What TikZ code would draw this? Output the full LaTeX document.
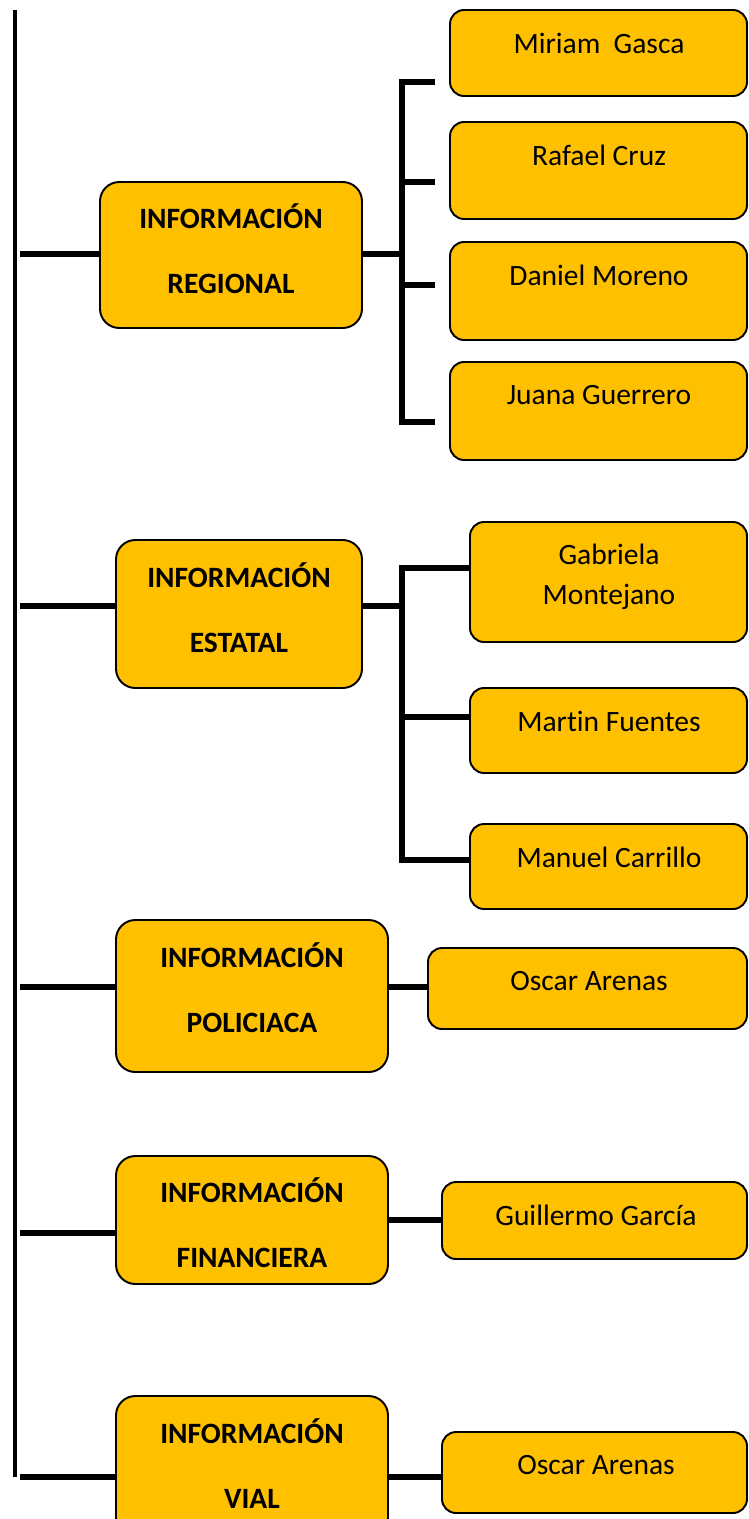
\documentclass[tikz,border=0pt]{standalone}
\usepackage{fontspec}
\setmainfont{Carlito}[Ligatures=NoCommon]
\usepackage{tikz}
\usetikzlibrary{fit}
\definecolor{gold}{HTML}{FFC000}
\tikzset{
  area/.style={draw, fill=gold, line width=1.1pt, rounded corners=11pt, inner sep=0pt},
  leaf/.style={draw, fill=gold, line width=1.1pt, rounded corners=8pt, inner sep=0pt},
  link/.style={line width=3.2pt},
  spine/.style={line width=2.7pt},
  title/.style={font=\fontsize{16.8}{19}\selectfont\bfseries, align=center},
  person/.style={font=\fontsize{16.8}{19}\selectfont, align=center},
}

\begin{document}
\begin{tikzpicture}[x=0.02cm, y=-0.02cm]
    \useasboundingbox (0,0) rectangle (748,1519);
    \clip (0,0) rectangle (748,1519);

    % areas
    \node[area, fit={(100,182) (362,328)}] (reg) {};
    \node[area, fit={(116,540) (362,688)}] (est) {};
    \node[area, fit={(116,920) (388,1072)}] (pol) {};
    \node[area, fit={(116,1156) (388,1284)}] (fin) {};
    \node[area, fit={(116,1396) (388,1560)}] (via) {};
    \node[title] (regt) at (231,249) {INFORMACIÓN\\[18pt]REGIONAL};
    \node[title] (estt) at (239,608) {INFORMACIÓN\\[18pt]ESTATAL};
    \node[title] (polt) at (252,988) {INFORMACIÓN\\[18pt]POLICIACA};
    \node[title] (fint) at (252,1223) {INFORMACIÓN\\[18pt]FINANCIERA};
    \node[title] (viat) at (252,1464) {INFORMACIÓN\\[18pt]VIAL};

    % people
    \node[leaf, fit={(450,10) (747,96)}] (m1) {};
    \node[leaf, fit={(450,122) (747,219)}] (m2) {};
    \node[leaf, fit={(450,242) (747,340)}] (m3) {};
    \node[leaf, fit={(450,362) (747,460)}] (m4) {};
    \node[leaf, fit={(470,522) (747,642)}] (e1) {};
    \node[leaf, fit={(470,688) (747,773)}] (e2) {};
    \node[leaf, fit={(470,824) (747,909)}] (e3) {};
    \node[leaf, fit={(428,948) (747,1029)}] (p1) {};
    \node[leaf, fit={(442,1182) (747,1259)}] (f1) {};
    \node[leaf, fit={(442,1432) (747,1513)}] (v1) {};
    \node[person] (m1t) at (599,43) {Miriam\ \ Gasca};
    \node[person] (m2t) at (599,155) {Rafael Cruz};
    \node[person] (m3t) at (599,275) {Daniel Moreno};
    \node[person] (m4t) at (599,395) {Juana Guerrero};
    \node[person] (e1t) at (609,577) {Gabriela\\[4pt]Montejano};
    \node[person] (e2t) at (609,721) {Martin Fuentes};
    \node[person] (e3t) at (609,857) {Manuel Carrillo};
    \node[person] (p1t) at (589,981) {Oscar Arenas};
    \node[person] (f1t) at (596,1215) {Guillermo García};
    \node[person] (v1t) at (596,1465) {Oscar Arenas};

    % spine
    \coordinate (top) at (15,10);
    \coordinate (bot) at (15,1477);
    \draw[spine] (top) -- (bot);
    \coordinate (t1) at (20,254);
    \coordinate (t2) at (20,606);
    \coordinate (t3) at (20,987);
    \coordinate (t4) at (20,1233);
    \coordinate (t5) at (20,1477);
    \draw[link] (t1) -- (t1 -| reg.west);
    \draw[link] (t2) -- (t2 -| est.west);
    \draw[link] (t3) -- (t3 -| pol.west);
    \draw[link] (t4) -- (t4 -| fin.west);
    \draw[link] (t5) -- (t5 -| via.west);

    % regional bracket
    \coordinate (rb1) at (402,82);
    \coordinate (rb2) at (402,182);
    \coordinate (rb3) at (402,285);
    \coordinate (rb4) at (402,422);
    \draw[link] (t1 -| reg.east) -- (t1 -| rb1);
    \draw[link] ([xshift=-8]rb1 -| m1.west) -- (rb1) -- (rb4) -- ([xshift=-8]rb4 -| m4.west);
    \draw[link] (rb2) -- ([xshift=-8]rb2 -| m2.west);
    \draw[link] (rb3) -- ([xshift=-8]rb3 -| m3.west);

    % estatal bracket
    \coordinate (eb1) at (402,568);
    \coordinate (eb2) at (402,717);
    \coordinate (eb3) at (402,860);
    \draw[link] (t2 -| est.east) -- (t2 -| eb1);
    \draw[link] (eb1 -| e1.west) -- (eb1) -- (eb3) -- (eb3 -| e3.west);
    \draw[link] (eb2) -- (eb2 -| e2.west);

    % single links
    \draw[link] (t3 -| pol.east) -- (t3 -| p1.west);
    \draw[link] (fin.east) -- (fin.east -| f1.west);
    \draw[link] (t5 -| via.east) -- (t5 -| v1.west);
\end{tikzpicture}
\end{document}
